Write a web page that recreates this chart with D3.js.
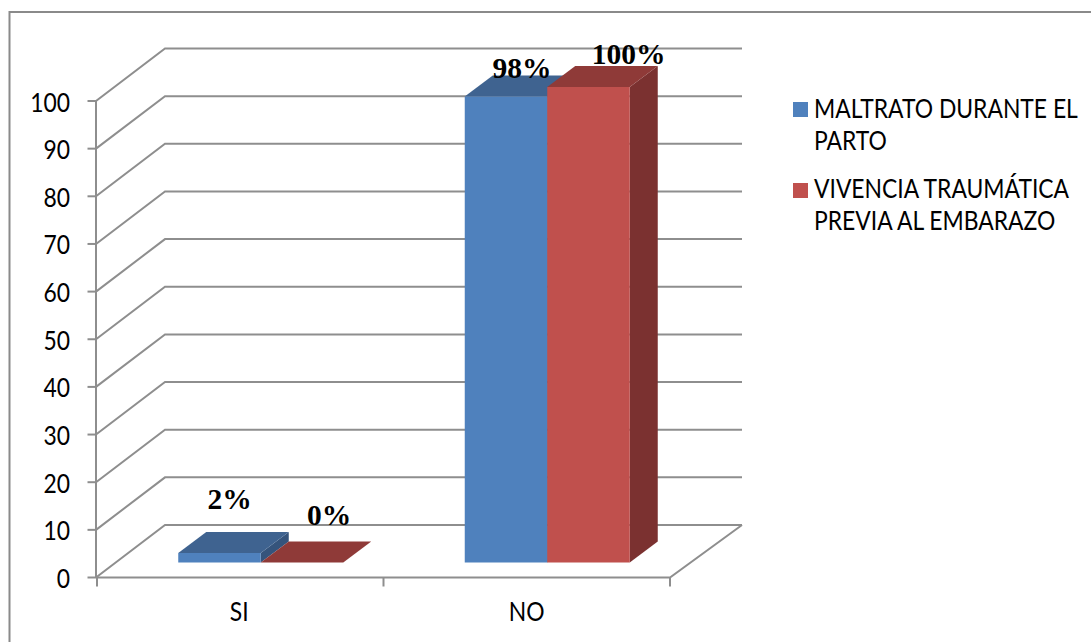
<!DOCTYPE html>
<html>
<head>
<meta charset="utf-8">
<script src="https://cdn.jsdelivr.net/npm/d3@7/dist/d3.min.js"></script>
<style>
html,body{margin:0;padding:0;background:#fff;overflow:hidden;}
svg{display:block;}
</style>
</head>
<body>
<svg id="chart" width="1091" height="642"></svg>
<script>
const categories = ["SI", "NO"];
const maltrato = [2, 98];
const vivencia = [0, 100];
const maltratoLabels = ["2%", "98%"];
const vivenciaLabels = ["0%", "100%"];
const yTicks = [0, 10, 20, 30, 40, 50, 60, 70, 80, 90, 100];
const legendLines = [["MALTRATO DURANTE EL", "PARTO"], ["VIVENCIA TRAUMÁTICA", "PREVIA AL EMBARAZO"]];

const faces = [
  {front: "#4f81bd", top: "#3f6390", side: "#35547c"},
  {front: "#c0504d", top: "#8f3a38", side: "#7b3130"}
];
const gridColor = "#8e8e8e";
const sansFont = "Lato, 'Open Sans', sans-serif";
const serifFont = "'Liberation Serif', 'Times New Roman', serif";

const svg = d3.select("#chart");

// Front plane of the 3D plot, back wall position, and bar depth
const y = d3.scaleLinear().domain([0, 100]).range([577.5, 101]);
const x0 = d3.scaleBand().domain(categories).range([97, 670]);
const axisX = 96;
const wallLeft = 165;
const wallRight = 742;
const wallRise = -52.5;
const barDepth = {dx: 28, dy: -21};
const barBase = 562.5;
const barScale = d3.scaleLinear().domain([0, 100]).range([barBase, 87]);
const barWidth = 82.5;
const clusterShift = 20.5;
const clusterMid = c => x0(c) + x0.bandwidth() / 2 + clusterShift;

// Narrowed sans text, anchored at (px, py)
function sansText(parent, px, py, content, size, squeeze, anchor) {
  return parent.append("text")
    .attr("transform", `translate(${px},${py}) scale(${squeeze},1)`)
    .attr("text-anchor", anchor)
    .attr("font-family", sansFont).attr("font-size", size)
    .attr("fill", "#000").text(content);
}

// Outer frame: only the top and left edges fall inside the page
svg.append("path")
  .attr("d", d3.line()([[1091, 12], [9.5, 12], [9.5, 642]]))
  .attr("fill", "none").attr("stroke", "#8a8a8a").attr("stroke-width", 2);

// Back wall gridlines, each with its diagonal down to the value axis
const grid = svg.append("g").attr("fill", "none").attr("stroke", gridColor).attr("stroke-width", 2);
yTicks.forEach(t => {
  grid.append("path").attr("d", d3.line()([
    [axisX, y(t)],
    [wallLeft, y(t) + wallRise],
    [wallRight, y(t) + wallRise]
  ]));
});

// Floor front edge with its right diagonal, and the value axis line
grid.append("path").attr("d", d3.line()([
  [axisX, y(0)], [x0.range()[1], y(0)], [wallRight, y(0) + wallRise]
]));
grid.append("line")
  .attr("x1", axisX).attr("x2", axisX)
  .attr("y1", y(0)).attr("y2", y(100));

// Value axis ticks and labels
const yAxis = svg.append("g");
yTicks.forEach(t => {
  yAxis.append("line")
    .attr("x1", 87.5).attr("x2", axisX)
    .attr("y1", y(t)).attr("y2", y(t))
    .attr("stroke", gridColor).attr("stroke-width", 2);
  sansText(yAxis, 70, y(t) + 10.5, t, 26, 0.88, "end");
});

// Category ticks and labels
[x0.range()[0], x0.range()[0] + x0.bandwidth(), x0.range()[1]].forEach(px => {
  svg.append("line")
    .attr("x1", px).attr("x2", px).attr("y1", y(0)).attr("y2", y(0) + 9)
    .attr("stroke", gridColor).attr("stroke-width", 2);
});
categories.forEach(c => {
  sansText(svg, x0(c) + x0.bandwidth() / 2 - (c === "SI" ? 1 : 0), 620.5, c, 26, 0.88, "middle");
});

// One 3D bar: side face, top face, then front face
function bar(g, left, value, colors) {
  const top = barScale(value);
  const r = left + barWidth;
  const line = d3.line();
  g.append("path").attr("fill", colors.side).attr("d", line([
    [r, top], [r + barDepth.dx, top + barDepth.dy],
    [r + barDepth.dx, barBase + barDepth.dy], [r, barBase]
  ]) + "Z");
  g.append("path").attr("fill", colors.top).attr("d", line([
    [left, top], [left + barDepth.dx, top + barDepth.dy],
    [r + barDepth.dx, top + barDepth.dy], [r, top]
  ]) + "Z");
  g.append("rect")
    .attr("x", left).attr("y", top)
    .attr("width", barWidth).attr("height", barBase - top)
    .attr("fill", colors.front);
}

const barsLayer = svg.append("g");
categories.forEach((c, i) => {
  const mid = clusterMid(c);
  bar(barsLayer, mid - barWidth, maltrato[i], faces[0]);
  bar(barsLayer, mid, vivencia[i], faces[1]);
});

// Percentage labels, nudged off each bar's top the way the chart places them
const labelNudge = [
  [[10, -44], [16, -19]],
  [[27, -37.5], [40, -23]]
];
[[maltrato, maltratoLabels], [vivencia, vivenciaLabels]].forEach(([vals, labels], s) => {
  categories.forEach((c, i) => {
    const centre = clusterMid(c) + (s === 0 ? -barWidth / 2 : barWidth / 2);
    svg.append("text")
      .attr("x", centre + labelNudge[s][i][0])
      .attr("y", barScale(vals[i]) + labelNudge[s][i][1])
      .attr("text-anchor", "middle")
      .attr("font-family", serifFont).attr("font-weight", "bold").attr("font-size", 29.5)
      .attr("fill", "#000").text(labels[i]);
  });
});

// Legend
const legendSwatchTop = [102, 183];
const legendBaseline = [118, 198];
legendLines.forEach((lines, s) => {
  const g = svg.append("g");
  g.append("rect")
    .attr("x", 793).attr("y", legendSwatchTop[s])
    .attr("width", 15).attr("height", 15)
    .attr("fill", faces[s].front);
  lines.forEach((txt, k) => {
    sansText(g, 814, legendBaseline[s] + k * 32, txt, 26, 0.88, "start");
  });
});
</script>
</body>
</html>
